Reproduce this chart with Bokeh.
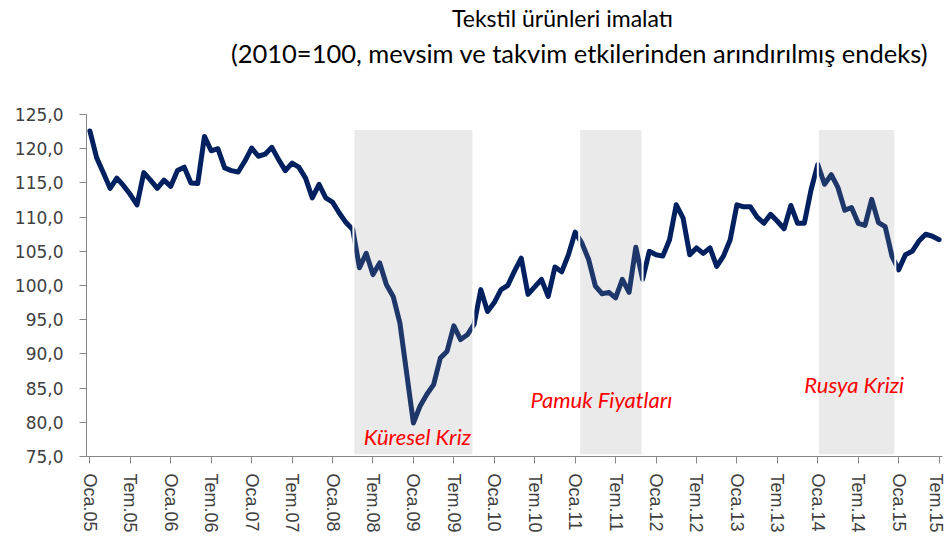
from bokeh.plotting import figure
from bokeh.models import FixedTicker, Label
from bokeh.core.properties import value
from bokeh.embed import file_html
from bokeh.resources import INLINE

# Monthly index values, Oca.05 (Jan 2005) .. Tem.15 (Jul 2015)
values = [
    122.6, 118.7, 116.5, 114.2, 115.7, 114.6, 113.3, 111.8, 116.5, 115.4, 114.2, 115.4,  # 2005
    114.5, 116.8, 117.3, 115.0, 114.9, 121.8, 119.7, 120.0, 117.2, 116.8, 116.6, 118.2,  # 2006
    120.1, 118.9, 119.2, 120.2, 118.4, 116.8, 117.9, 117.3, 115.7, 112.8, 114.8, 112.8,  # 2007
    112.2, 110.6, 109.2, 108.2, 102.6, 104.7, 101.6, 103.3, 100.1, 98.4, 94.5, 87.2,     # 2008
    79.9, 82.4, 84.1, 85.5, 89.4, 90.4, 94.1, 92.1, 92.8, 94.3, 99.4, 96.2,              # 2009
    97.5, 99.4, 100.0, 102.1, 104.0, 98.7, 99.8, 100.9, 98.4, 102.7, 102.0, 104.5,       # 2010
    107.8, 106.2, 103.8, 99.9, 98.8, 99.0, 98.2, 100.9, 99.0, 105.6, 100.9, 105.0,       # 2011
    104.5, 104.3, 106.7, 111.8, 109.9, 104.5, 105.5, 104.7, 105.5, 102.8, 104.3, 106.7,  # 2012
    111.8, 111.5, 111.5, 110.0, 109.1, 110.4, 109.4, 108.3, 111.7, 109.1, 109.1, 114.0,  # 2013
    117.7, 114.8, 116.2, 114.3, 111.0, 111.4, 109.1, 108.8, 112.6, 109.2, 108.6, 104.3,  # 2014
    102.3, 104.5, 105.0, 106.5, 107.5, 107.2, 106.7,                                     # 2015
]
months = list(range(len(values)))

x_tick_labels = ["Oca.05", "Tem.05", "Oca.06", "Tem.06", "Oca.07", "Tem.07", "Oca.08",
                 "Tem.08", "Oca.09", "Tem.09", "Oca.10", "Tem.10", "Oca.11", "Tem.11",
                 "Oca.12", "Tem.12", "Oca.13", "Tem.13", "Oca.14", "Tem.14", "Oca.15", "Tem.15"]
y_ticks = [75, 80, 85, 90, 95, 100, 105, 110, 115, 120, 125]
y_tick_labels = ["75,0", "80,0", "85,0", "90,0", "95,0", "100,0", "105,0",
                 "110,0", "115,0", "120,0", "125,0"]

# shaded crisis periods (month index)
shade_start = [39.1, 72.6, 108.0]
shade_end = [56.9, 82.0, 119.5]
shade_top = [122.9, 122.9, 122.9]
shade_bottom = [75.2, 75.2, 75.2]

note_text = ["Küresel Kriz", "Pamuk Fiyatları", "Rusya Krizi"]
note_x = [48.6, 75.9, 113.4]
note_y = [77.9, 83.3, 85.5]

title_1 = "Tekstil ürünleri imalatı"
title_2 = "(2010=100, mevsim ve takvim etkilerinden arındırılmış endeks)"

# frame extends above the axis top (125) to hold the two title lines
p = figure(width=945, height=546, x_range=(-0.5, 126.5), y_range=(75, 141.67),
           output_backend="svg", toolbar_location=None,
           min_border_left=86, min_border_right=3, min_border_top=0, min_border_bottom=90)
p.outline_line_color = None
p.xgrid.visible = False
p.ygrid.visible = False
p.background_fill_color = "white"

p.line(months, values, line_color="#002060", line_width=5, line_join="round", line_cap="round")
p.quad(left=shade_start, right=shade_end, top=shade_top, bottom=shade_bottom,
       fill_color="#969696", fill_alpha=0.2, line_color="white", line_width=2)

p.text(x=note_x, y=note_y, text=note_text, text_color="#FF0000",
       text_font=value("Lato"), text_font_style="italic", text_font_size="22px",
       text_align="center", text_baseline="middle")

ax = p.xaxis[0]
ax.ticker = FixedTicker(ticks=list(range(0, len(values), 6)))
ax.major_label_overrides = {i * 6: lab for i, lab in enumerate(x_tick_labels)}
ax.major_label_orientation = "vertical"
ax.minor_tick_line_color = None
ax.major_tick_in = 0
ax.major_tick_out = 7
ax.axis_line_color = "#868686"
ax.major_tick_line_color = "#868686"
ax.major_label_text_font = "Liberation Sans"
ax.major_label_text_font_size = "18px"
ax.major_label_text_color = "#404040"
ax.major_label_standoff = 10

ay = p.yaxis[0]
ay.ticker = FixedTicker(ticks=y_ticks)
ay.bounds = (75, 125)
ay.major_label_overrides = {t: s for t, s in zip(y_ticks, y_tick_labels)}
ay.minor_tick_line_color = None
ay.major_tick_in = 0
ay.major_tick_out = 7
ay.axis_line_color = "#868686"
ay.major_tick_line_color = "#868686"
ay.major_label_text_font = "DejaVu Sans"
ay.major_label_text_font_size = "17px"
ay.major_label_text_color = "#404040"
ay.major_label_standoff = 16

p.add_layout(Label(x=476, y=439, x_units="screen", y_units="screen", text=title_1,
                   text_align="center", text_baseline="middle", text_font="Lato",
                   text_font_size="23px", text_color="#000000"))
p.add_layout(Label(x=493, y=404, x_units="screen", y_units="screen", text=title_2,
                   text_align="center", text_baseline="middle", text_font="Lato",
                   text_font_size="25.5px", text_color="#000000"))

open("out.html", "w").write(file_html(p, INLINE))
